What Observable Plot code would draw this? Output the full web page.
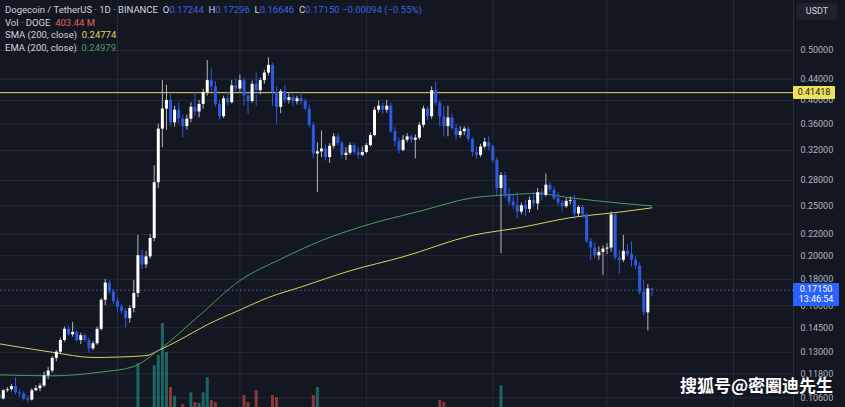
<!DOCTYPE html>
<html><head><meta charset="utf-8">
<script src="https://cdn.jsdelivr.net/npm/d3@7"></script>
<script src="https://cdn.jsdelivr.net/npm/@observablehq/plot@0.6"></script>
<style>
html,body{margin:0;padding:0;background:#131722;}
#wrap{position:relative;width:845px;height:407px;overflow:hidden;background:#131722;font-family:Roboto,"Noto Sans",sans-serif;}
#wrap svg{position:absolute;left:0;top:0;}
.lg{position:absolute;left:5px;font-size:9.5px;color:#d1d4dc;white-space:nowrap;line-height:12px;}
.b{color:#3d63e0;}
.box{position:absolute;font-size:9px;line-height:11px;white-space:nowrap;}
#wm{position:absolute;left:680px;top:372px;font-family:"Noto Sans CJK SC",sans-serif;font-size:17px;font-weight:700;color:#fff;white-space:nowrap;}
</style></head><body><div id="wrap"></div>
<script>
// ---- data (daily candles from 2024-10-03) ----
const startDate = "2024-10-03";
const open = [
0.1075,0.1055,0.1095,0.1100,0.1115,0.1085,0.1080,0.1055,0.1050,0.1095,
0.1105,0.1118,0.1170,0.1195,0.1265,0.1300,0.1370,0.1440,0.1405,0.1420,
0.1370,0.1400,0.1370,0.1320,0.1350,0.1440,0.1640,0.1770,0.1700,0.1630,
0.1590,0.1560,0.1510,0.1580,0.1690,0.2000,0.1920,0.1990,0.2160,0.2770,
0.3520,0.3850,0.4000,0.3620,0.3830,0.3680,0.3560,0.3680,0.3880,0.3800,
0.3930,0.4140,0.4370,0.4250,0.3930,0.3720,0.4030,0.3960,0.4270,0.4210,
0.4370,0.4080,0.3980,0.4300,0.4180,0.4370,0.4520,0.4680,0.4150,0.3880,
0.4160,0.4000,0.4050,0.3980,0.4030,0.3980,0.3850,0.3580,0.3150,0.3180,
0.3220,0.3100,0.3260,0.3400,0.3300,0.3130,0.3160,0.3270,0.3170,0.3130,
0.3170,0.3270,0.3420,0.3830,0.3900,0.3830,0.3900,0.3480,0.3330,0.3200,
0.3350,0.3400,0.3350,0.3380,0.3580,0.3850,0.3720,0.4180,0.3950,0.3720,
0.3560,0.3700,0.3530,0.3420,0.3480,0.3520,0.3360,0.3170,0.3130,0.3250,
0.3320,0.3250,0.3060,0.2700,0.2860,0.2620,0.2540,0.2500,0.2430,0.2500,
0.2460,0.2560,0.2520,0.2650,0.2620,0.2740,0.2680,0.2580,0.2530,0.2490,
0.2550,0.2560,0.2410,0.2480,0.2400,0.2130,0.2070,0.2000,0.2030,0.2060,
0.2070,0.2400,0.1980,0.1960,0.2040,0.2010,0.1960,0.1910,0.1700,0.1550,
0.17244];
const high = [
0.1090,0.1100,0.1110,0.1125,0.1160,0.1100,0.1090,0.1070,0.1105,0.1120,
0.1130,0.1190,0.1215,0.1275,0.1310,0.1385,0.1455,0.1460,0.1485,0.1430,
0.1415,0.1410,0.1385,0.1365,0.1455,0.1650,0.1800,0.1790,0.1720,0.1660,
0.1610,0.1580,0.1600,0.1790,0.2190,0.2050,0.2040,0.2200,0.2990,0.3600,
0.4370,0.4280,0.4120,0.3900,0.3950,0.3750,0.3750,0.3960,0.4150,0.4000,
0.4200,0.4780,0.4600,0.4350,0.4000,0.4080,0.4150,0.4370,0.4400,0.4480,
0.4420,0.4150,0.4360,0.4520,0.4420,0.4580,0.4840,0.4720,0.4250,0.4200,
0.4280,0.4120,0.4100,0.4080,0.4140,0.4020,0.3920,0.3620,0.3310,0.3490,
0.3280,0.3300,0.3450,0.3440,0.3330,0.3240,0.3310,0.3300,0.3240,0.3250,
0.3300,0.3460,0.3880,0.3990,0.3950,0.4000,0.3960,0.3550,0.3380,0.3420,
0.3450,0.3430,0.3430,0.3620,0.3900,0.3880,0.4250,0.4350,0.4000,0.3900,
0.3900,0.3760,0.3600,0.3560,0.3560,0.3560,0.3380,0.3250,0.3290,0.3380,
0.3400,0.3280,0.3100,0.2900,0.2900,0.2700,0.2620,0.2650,0.2530,0.2560,
0.2600,0.2660,0.2700,0.2690,0.2880,0.2770,0.2720,0.2650,0.2560,0.2580,
0.2600,0.2620,0.2500,0.2500,0.2420,0.2160,0.2120,0.2080,0.2090,0.2110,
0.2430,0.2420,0.2050,0.2190,0.2100,0.2130,0.1990,0.1940,0.1790,0.1760,
0.17296];
const low = [
0.1040,0.1050,0.1085,0.1090,0.1075,0.1065,0.1045,0.1035,0.1045,0.1090,
0.1090,0.1110,0.1150,0.1185,0.1245,0.1290,0.1360,0.1395,0.1390,0.1360,
0.1345,0.1360,0.1295,0.1310,0.1340,0.1430,0.1600,0.1680,0.1610,0.1550,
0.1540,0.1450,0.1480,0.1550,0.1660,0.1880,0.1890,0.1970,0.2130,0.2700,
0.3240,0.3500,0.3560,0.3550,0.3600,0.3390,0.3500,0.3620,0.3720,0.3700,
0.3850,0.4080,0.4150,0.3880,0.3660,0.3690,0.3900,0.3940,0.4150,0.4150,
0.3900,0.3760,0.3950,0.3900,0.4100,0.4300,0.4460,0.3900,0.3600,0.3770,
0.3950,0.3940,0.3900,0.3920,0.3920,0.3820,0.3540,0.3080,0.2650,0.3100,
0.3050,0.3020,0.3220,0.3260,0.3080,0.3060,0.3130,0.3140,0.3080,0.3110,
0.3150,0.3250,0.3400,0.3780,0.3760,0.3780,0.3450,0.3250,0.3150,0.3180,
0.3310,0.3300,0.3080,0.3350,0.3540,0.3650,0.3680,0.3900,0.3550,0.3400,
0.3400,0.3500,0.3350,0.3380,0.3420,0.3320,0.3110,0.3080,0.3100,0.3220,
0.3200,0.3020,0.2620,0.2020,0.2580,0.2500,0.2460,0.2360,0.2400,0.2380,
0.2420,0.2480,0.2450,0.2560,0.2600,0.2650,0.2560,0.2490,0.2430,0.2470,
0.2510,0.2350,0.2380,0.2360,0.2110,0.1960,0.1970,0.1960,0.1830,0.2010,
0.2030,0.1960,0.1840,0.1940,0.1990,0.1900,0.1880,0.1680,0.1530,0.1430,
0.16646];
const close = [
0.1055,0.1095,0.1100,0.1115,0.1085,0.1080,0.1055,0.1050,0.1095,0.1105,
0.1118,0.1170,0.1195,0.1265,0.1300,0.1370,0.1440,0.1405,0.1420,0.1370,
0.1400,0.1370,0.1320,0.1350,0.1440,0.1640,0.1770,0.1700,0.1630,0.1590,
0.1560,0.1510,0.1580,0.1690,0.2000,0.1920,0.1990,0.2160,0.2770,0.3520,
0.3850,0.4000,0.3620,0.3830,0.3680,0.3560,0.3680,0.3880,0.3800,0.3930,
0.4140,0.4370,0.4250,0.3930,0.3720,0.4030,0.3960,0.4270,0.4210,0.4370,
0.4080,0.3980,0.4300,0.4180,0.4370,0.4520,0.4680,0.4150,0.3880,0.4160,
0.4000,0.4050,0.3980,0.4030,0.3980,0.3850,0.3580,0.3150,0.3180,0.3220,
0.3100,0.3260,0.3400,0.3300,0.3130,0.3160,0.3270,0.3170,0.3130,0.3170,
0.3270,0.3420,0.3830,0.3900,0.3830,0.3900,0.3480,0.3330,0.3200,0.3350,
0.3400,0.3350,0.3380,0.3580,0.3850,0.3720,0.4180,0.3950,0.3720,0.3560,
0.3700,0.3530,0.3420,0.3480,0.3520,0.3360,0.3170,0.3130,0.3250,0.3320,
0.3250,0.3060,0.2700,0.2860,0.2620,0.2540,0.2500,0.2430,0.2500,0.2460,
0.2560,0.2520,0.2650,0.2620,0.2740,0.2680,0.2580,0.2530,0.2490,0.2550,
0.2560,0.2410,0.2480,0.2400,0.2130,0.2070,0.2000,0.2030,0.2060,0.2070,
0.2400,0.1980,0.1960,0.2040,0.2010,0.1960,0.1910,0.1700,0.1550,0.17244,
0.1715];
const volume = [ // millions of DOGE
700,650,520,560,820,760,690,640,720,590,
540,1150,1300,1250,1100,1450,1500,1050,1400,1000,
950,820,1000,640,900,1700,1800,1350,1150,1050,
800,1000,1100,1450,8200,1750,1500,1800,7900,9400,
14000,9800,4750,3500,1800,2300,1700,4000,2600,2500,
4000,6200,2900,2600,1800,1750,1300,1700,1200,1500,
3600,2600,1800,4300,1700,1500,1800,3600,3300,1800,
1400,1100,900,800,1300,1300,1800,3600,4750,1800,
900,1100,1000,800,1100,900,800,700,1000,900,
800,1200,1600,1000,700,1100,1700,1300,1200,1000,
600,650,1300,1000,1300,1100,1600,1800,2900,2600,
1600,1100,1000,800,600,800,1700,1000,900,800,
900,1100,1800,5000,1700,1100,900,1200,700,800,
700,800,900,700,1300,700,600,800,900,700,
700,1500,700,600,1300,1700,1200,1000,1500,700,
1700,1600,1600,1200,900,1300,700,1000,1500,1800,
403.44];
const smaDates = ["2024-10-03","2024-10-16","2024-10-26","2024-11-08","2024-11-11","2024-11-16","2024-11-23","2024-12-01","2024-12-08","2024-12-16","2024-12-28","2025-01-10","2025-01-27","2025-02-08","2025-02-20","2025-03-04","2025-03-12"];
const smaValues = [0.135,0.130,0.127,0.128,0.131,0.137,0.147,0.157,0.166,0.174,0.187,0.199,0.219,0.227,0.237,0.243,0.2477];
const emaDates = ["2024-10-03","2024-10-16","2024-10-28","2024-11-05","2024-11-11","2024-11-21","2024-12-01","2024-12-11","2024-12-21","2024-12-31","2025-01-15","2025-01-27","2025-02-03","2025-02-12","2025-02-20","2025-03-04","2025-03-12"];
const emaValues = [0.1175,0.117,0.119,0.122,0.131,0.153,0.179,0.197,0.214,0.228,0.245,0.259,0.262,0.264,0.259,0.253,0.2498];
const priceTicks = [0.106,0.118,0.13,0.145,0.16,0.18,0.2,0.22,0.25,0.28,0.32,0.36,0.4,0.44,0.5];
const monthStarts = ["2024-10-01","2024-11-01","2024-12-01","2025-01-01","2025-02-01","2025-03-01","2025-04-01"];
const hLevel = 0.41418;
const lastPrice = 0.1715;

// ---- build ----
const start = new Date(startDate + "T00:00:00Z");
const candles = open.map((o, i) => ({
  date: d3.utcDay.offset(start, i), open: o, high: high[i], low: low[i],
  close: close[i], volume: volume[i], up: close[i] >= o
}));
const sma = smaDates.map((d, i) => ({date: new Date(d + "T00:00:00Z"), value: smaValues[i]}));
const ema = emaDates.map((d, i) => ({date: new Date(d + "T00:00:00Z"), value: emaValues[i]}));
const months = monthStarts.map(d => new Date(d + "T00:00:00Z"));

const W = 845, H = 407, MR = 52;
const xScale = {type: "utc", domain: [new Date("2024-11-01T00:00:00Z"), new Date("2025-04-01T00:00:00Z")], range: [117, 733]};
const yScale = {type: "log", domain: [0.1, 0.52], range: [410.5, 41.2]};
const base = {width: W, height: H, marginLeft: 0, marginRight: MR, marginTop: 0, marginBottom: 0,
  style: {background: "transparent", fontFamily: "Roboto, 'Noto Sans', sans-serif", overflow: "visible"},
  color: {type: "identity"}};
const UP = "#ffffff", UPW = "#b4b7bf", DN = "#2f5ae0";

const wrap = document.getElementById("wrap");

const grid = Plot.plot({...base, x: {...xScale, axis: null}, y: {...yScale, axis: null},
  marks: [
    Plot.ruleY(priceTicks, {stroke: "#262a35"}),
    Plot.ruleX(months, {stroke: "#262a35"})
  ]});
wrap.appendChild(grid);

const vol = Plot.plot({...base, x: {...xScale, axis: null}, y: {domain: [0, 14000], range: [420, 323], axis: null},
  marks: [
    Plot.ruleX(candles, {x: "date", y1: () => 0, y2: "volume", strokeWidth: 3,
      stroke: d => d.up ? "rgba(38,166,154,0.55)" : "rgba(239,83,80,0.55)"})
  ]});
wrap.appendChild(vol);

const price = Plot.plot({...base, x: {...xScale, axis: null}, y: {...yScale},
  marks: [
    Plot.ruleY([hLevel], {stroke: "#e6d86a", strokeWidth: 1}),
    Plot.ruleY([lastPrice], {stroke: "#5a78d8", strokeDasharray: "1.5,2.5", strokeOpacity: 0.8}),
    Plot.line(sma, {x: "date", y: "value", stroke: "#ddcf62", strokeWidth: 1, curve: "monotone-x"}),
    Plot.line(ema, {x: "date", y: "value", stroke: "#4d9a62", strokeWidth: 1, curve: "monotone-x"}),
    Plot.ruleX(candles, {x: "date", y1: "low", y2: "high", strokeWidth: 1, stroke: d => d.up ? UPW : DN}),
    Plot.ruleX(candles, {x: "date", y1: "open", y2: "close", strokeWidth: 3, stroke: d => d.up ? UP : DN}),
    Plot.axisY({ticks: priceTicks, anchor: "right", tickFormat: d3.format(".5f"), tickSize: 0, tickPadding: 7,
      label: null, fill: "#b2b5be", fontSize: 9})
  ]});
wrap.appendChild(price);

const ys = price.scale("y");
function addDiv(html, css, cls) {
  const d = document.createElement("div");
  if (cls) d.className = cls;
  d.innerHTML = html;
  Object.assign(d.style, css);
  wrap.appendChild(d);
  return d;
}
// axis separator
addDiv("", {position: "absolute", left: (W - MR) + "px", top: "0px", width: "1px", height: H + "px", background: "#2a2e39"});
// USDT box
addDiv("USDT", {left: "797px", top: "3px", width: "40px", height: "17px", lineHeight: "17px", textAlign: "center",
  background: "#1e222d", color: "#d1d4dc", borderRadius: "2px"}, "box");
// level label
const yl = ys.apply(hLevel);
addDiv(d3.format(".5f")(hLevel), {left: (W - MR) + "px", top: (yl - 6.5) + "px", width: "42px", height: "13px", lineHeight: "13px",
  textAlign: "center", background: "#efe05e", color: "#1a1a1a", borderRadius: "1px"}, "box");
// last price label
const yp = ys.apply(lastPrice);
addDiv(d3.format(".5f")(lastPrice) + "<br>13:46:54", {left: (W - MR) + "px", top: (yp - 7) + "px", width: "46px", height: "22px",
  lineHeight: "10px", paddingTop: "1px", textAlign: "center", background: "#2962ff", color: "#fff", borderRadius: "1px"}, "box");
// legend
addDiv('Dogecoin / TetherUS · 1D · BINANCE&nbsp; O<span class="b">0.17244</span>&nbsp; H<span class="b">0.17296</span>&nbsp; L<span class="b">0.16646</span>&nbsp; C<span class="b">0.17150</span> <span class="b">−0.00094 (−0.55%)</span>', {top: "4px"}, "lg");
addDiv('Vol · DOGE&nbsp; <span style="color:#e0605a">403.44 M</span>', {top: "16.5px"}, "lg");
addDiv('SMA (200, close)&nbsp; <span style="color:#e3d268">0.24774</span>', {top: "29px"}, "lg");
addDiv('EMA (200, close)&nbsp; <span style="color:#4d9a62">0.24979</span>', {top: "41.5px"}, "lg");
// watermark
const wm = document.createElement("div"); wm.id = "wm"; wm.textContent = "搜狐号@密圈迪先生"; wrap.appendChild(wm);
</script></body></html>
